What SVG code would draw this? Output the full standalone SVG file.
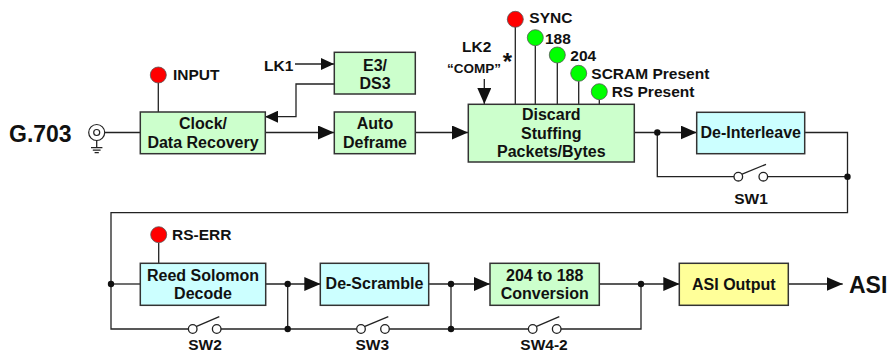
<svg xmlns="http://www.w3.org/2000/svg" width="887" height="354" viewBox="0 0 887 354">
<defs>
<style>
text{font-family:"Liberation Sans",Arial,sans-serif;font-weight:bold;fill:#111}
.box{stroke:#333;stroke-width:1.5}
.g{fill:#CCFFCC}.c{fill:#CCFFFF}.y{fill:#FFFF99}
.bt{font-size:16px;text-anchor:middle}
.lb{font-size:15.5px}
.big{font-size:23px}
.ln{fill:none;stroke:#222;stroke-width:1.3}
.dot{fill:#111}
.red{fill:#FF0000;stroke:#555;stroke-width:0.8}
.grn{fill:#00FF00;stroke:#555;stroke-width:0.8}
.sw{fill:#fff;stroke:#222;stroke-width:1.3}
.ah{marker-end:url(#ah)}
.as{marker-end:url(#as)}
</style>
<marker id="ah" markerUnits="userSpaceOnUse" markerWidth="16" markerHeight="14" refX="16" refY="7" orient="auto"><path d="M0,0L16,7L0,14z" fill="#111"/></marker>
<marker id="as" markerUnits="userSpaceOnUse" markerWidth="13" markerHeight="12" refX="13" refY="6" orient="auto"><path d="M0,0L13,6L0,12z" fill="#111"/></marker>
</defs>
<rect width="887" height="354" fill="#fff"/>

<g id="connectors">
  <path class="ln" d="M105,132.5H140"/>
  <path class="ln ah" d="M265,132.5H334"/>
  <path class="ln ah" d="M415,132.5H468"/>
  <path class="ln as" d="M295,64H334"/>
  <path class="ln as" d="M334,84H296V116.7H265"/>
  <path class="ln ah" d="M484.3,79V104"/>
  <path class="ln ah" d="M634,132.5H696.7"/>
  <path class="ln" d="M804.7,132.5H847.5V212.7H111V329H188.5"/>
  <path class="ln" d="M657.3,132.5V176.7H734"/>
  <path class="ln" d="M767.5,176.7H847.5"/>
  <path class="ln" d="M111,284H140"/>
  <path class="ln ah" d="M265.7,284H320.3"/>
  <path class="ln ah" d="M428.7,284H490"/>
  <path class="ln ah" d="M599.3,284H679.3"/>
  <path class="ln ah" d="M788.3,284H842.7"/>
  <path class="ln" d="M221,329H356.7"/>
  <path class="ln" d="M389.3,329H528.5"/>
  <path class="ln" d="M561,329H641V284"/>
  <path class="ln" d="M287.7,284V329"/>
  <path class="ln" d="M451,284V329"/>
  <circle class="dot" cx="657.3" cy="132.5" r="3.2"/>
  <circle class="dot" cx="847.5" cy="176.7" r="3.2"/>
  <circle class="dot" cx="111" cy="284" r="3.2"/>
  <circle class="dot" cx="287.7" cy="284" r="3.2"/>
  <circle class="dot" cx="287.7" cy="329" r="3.2"/>
  <circle class="dot" cx="451" cy="284" r="3.2"/>
  <circle class="dot" cx="451" cy="329" r="3.2"/>
  <circle class="dot" cx="641" cy="284" r="3.2"/>
  <path class="ln" d="M158.3,83V112"/>
  <path class="ln" d="M515.3,27V104"/>
  <path class="ln" d="M535.3,45.7V104"/>
  <path class="ln" d="M557.3,63V104"/>
  <path class="ln" d="M578.7,81.3V104"/>
  <path class="ln" d="M599.3,99.7V104"/>
  <path class="ln" d="M158.7,242.7V263.3"/>
</g>

<g id="g703">
  <text class="big" x="9" y="142">G.703</text>
  <circle cx="96.7" cy="132.5" r="8" fill="#fff" stroke="#222" stroke-width="1.2"/>
  <circle cx="96.7" cy="132.5" r="3" fill="#fff" stroke="#222" stroke-width="1.2"/>
  <path class="ln" d="M96.7,140.5V147.5M91,147.7H102.4M92.8,150.2H100.6M94.6,152.6H98.8" stroke-width="1.1"/>
</g>

<g id="clock">
  <rect class="box g" x="140.3" y="112" width="125" height="41.7"/>
  <text class="bt" x="203" y="129.3">Clock/</text>
  <text class="bt" x="203" y="147.6">Data Recovery</text>
</g>
<g id="e3ds3">
  <rect class="box g" x="334.3" y="52.3" width="81" height="41.7"/>
  <text class="bt" x="375" y="71">E3/</text>
  <text class="bt" x="375" y="88.6">DS3</text>
</g>
<g id="lk1"><text class="lb" x="264" y="71">LK1</text></g>
<g id="autodeframe">
  <rect class="box g" x="334.3" y="112" width="81" height="41.7"/>
  <text class="bt" x="375" y="129.3">Auto</text>
  <text class="bt" x="375" y="147.6">Deframe</text>
</g>
<g id="discard">
  <rect class="box g" x="468.3" y="104.3" width="166" height="57.7"/>
  <text class="bt" x="551.3" y="120.3">Discard</text>
  <text class="bt" x="551.3" y="139">Stuffing</text>
  <text class="bt" x="551.3" y="156.7">Packets/Bytes</text>
</g>
<g id="lk2">
  <text class="lb" x="476.7" y="52.3" text-anchor="middle">LK2</text>
  <text x="474" y="72.7" text-anchor="middle" font-size="13.5">“COMP”</text>
  <text x="507.5" y="70" text-anchor="middle" font-size="24" font-weight="normal">*</text>
</g>
<g id="deinterleave">
  <rect class="box c" x="696.7" y="112.3" width="108" height="41.4"/>
  <text class="bt" x="750.7" y="138.3">De-Interleave</text>
</g>
<g id="reedsolomon">
  <rect class="box c" x="140.3" y="263.3" width="125.4" height="42"/>
  <text class="bt" x="203" y="281">Reed Solomon</text>
  <text class="bt" x="203" y="299.3">Decode</text>
</g>
<g id="descramble">
  <rect class="box c" x="320.3" y="263.3" width="108.4" height="42"/>
  <text class="bt" x="374.5" y="289.3">De-Scramble</text>
</g>
<g id="conv204">
  <rect class="box g" x="490" y="263.3" width="109.3" height="42"/>
  <text class="bt" x="544.7" y="281">204 to 188</text>
  <text class="bt" x="544.7" y="299.3">Conversion</text>
</g>
<g id="asioutput">
  <rect class="box y" x="679.3" y="263.3" width="109" height="42"/>
  <text class="bt" x="733.8" y="290">ASI Output</text>
</g>
<g id="asi"><text class="big" x="849" y="292.7">ASI</text></g>

<g id="led-input"><circle class="red" cx="158.3" cy="75" r="8"/><text class="lb" x="173" y="80.3">INPUT</text></g>
<g id="led-sync"><circle class="red" cx="515.3" cy="19.3" r="8"/><text class="lb" x="529.3" y="22.7">SYNC</text></g>
<g id="led-188"><circle class="grn" cx="535.3" cy="37.7" r="8"/><text class="lb" x="545" y="44">188</text></g>
<g id="led-204"><circle class="grn" cx="557.3" cy="55" r="8"/><text class="lb" x="570.3" y="61">204</text></g>
<g id="led-scram"><circle class="grn" cx="578.7" cy="73.3" r="8"/><text class="lb" x="591.3" y="78.7">SCRAM Present</text></g>
<g id="led-rs"><circle class="grn" cx="599.3" cy="91.7" r="8"/><text class="lb" x="611.7" y="96.7">RS Present</text></g>
<g id="led-rserr"><circle class="red" cx="158.7" cy="234.7" r="8"/><text class="lb" x="172" y="240">RS-ERR</text></g>

<g id="sw1">
  <path class="ln" d="M741.5,174.3L766,164.3"/>
  <circle class="sw" cx="738.3" cy="176.7" r="4.3"/>
  <circle class="sw" cx="763.3" cy="176.7" r="4.3"/>
  <text class="lb" x="751" y="204" text-anchor="middle">SW1</text>
</g>
<g id="sw2">
  <path class="ln" d="M196,326.6L219.3,316.7"/>
  <circle class="sw" cx="192.7" cy="329" r="4.3"/>
  <circle class="sw" cx="216.7" cy="329" r="4.3"/>
  <text class="lb" x="205" y="350" text-anchor="middle">SW2</text>
</g>
<g id="sw3">
  <path class="ln" d="M364.3,326.6L388.3,316.7"/>
  <circle class="sw" cx="361" cy="329" r="4.3"/>
  <circle class="sw" cx="385" cy="329" r="4.3"/>
  <text class="lb" x="372.3" y="350" text-anchor="middle">SW3</text>
</g>
<g id="sw4">
  <path class="ln" d="M536,326.6L559.3,316.7"/>
  <circle class="sw" cx="532.7" cy="329" r="4.3"/>
  <circle class="sw" cx="556.7" cy="329" r="4.3"/>
  <text class="lb" x="544" y="350" text-anchor="middle">SW4-2</text>
</g>
</svg>
